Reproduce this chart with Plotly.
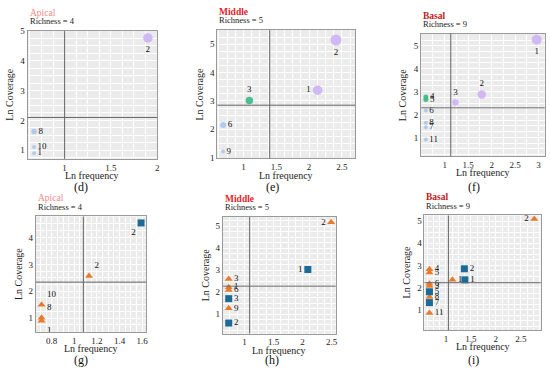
import plotly.graph_objects as go

W, H = 550, 372

# ------------------------- data -------------------------
# (d) Apical, bubble chart
d_labels = ["2", "8", "10", "1"]
d_freq = [1.90, 0.67, 0.67, 0.67]
d_cov = [4.77, 1.63, 1.11, 0.90]
d_group = ["P", "B", "B", "B"]
d_weight = [9.5, 5.5, 3.8, 3.8]
d_thresh = [1.0, 2.1]

# (e) Middle, bubble chart
e_labels = ["2", "1", "3", "6", "9"]
e_freq = [2.41, 2.13, 1.09, 0.69, 0.69]
e_cov = [5.15, 3.38, 3.02, 2.15, 1.22]
e_group = ["P", "P", "G", "B", "B"]
e_weight = [11, 9.5, 7.5, 6, 4]
e_thresh = [1.4, 2.85]

# (f) Basal, bubble chart
f_labels = ["1", "2", "3", "4", "5", "6", "8", "7", "11"]
f_freq = [2.96, 1.79, 1.23, 0.60, 0.60, 0.60, 0.60, 0.60, 0.60]
f_cov = [5.26, 2.87, 2.52, 2.76, 2.66, 2.17, 1.64, 1.45, 0.91]
f_group = ["P", "P", "P", "G", "G", "B", "B", "B", "B"]
f_weight = [10, 8.5, 6.5, 5, 5, 4, 4, 4, 4]
f_thresh = [1.13, 2.29]

# (g) Apical, triangles / squares
g_tri_labels = ["2", "10", "8", "1"]
g_tri_freq = [1.13, 0.71, 0.71, 0.71]
g_tri_cov = [2.57, 1.50, 1.02, 0.90]
g_sq_labels = ["2"]
g_sq_freq = [1.59]
g_sq_cov = [4.54]
g_thresh = [1.08, 2.34]

# (h) Middle
h_tri_labels = ["2", "3", "1", "6", "9"]
h_tri_freq = [2.49, 0.73, 0.73, 0.73, 0.73]
h_tri_cov = [5.18, 2.60, 2.22, 2.09, 1.26]
h_sq_labels = ["1", "3", "2"]
h_sq_freq = [2.09, 0.73, 0.73]
h_sq_cov = [3.03, 1.70, 0.59]
h_thresh = [1.09, 2.27]

# (i) Basal
i_tri_labels = ["2", "1", "4", "5", "6", "3", "8", "11"]
i_tri_freq = [2.77, 1.13, 0.67, 0.67, 0.67, 0.67, 0.67, 0.67]
i_tri_cov = [5.10, 2.35, 2.83, 2.68, 2.17, 2.07, 1.57, 0.85]
i_sq_labels = ["2", "1", "5", "7"]
i_sq_freq = [1.37, 1.38, 0.67, 0.67]
i_sq_cov = [2.85, 2.35, 1.81, 1.32]
i_thresh = [1.05, 2.22]

titles = ["Apical", "Middle", "Basal", "Apical", "Middle", "Basal"]
richness = ["Richness = 4", "Richness = 5", "Richness = 9",
            "Richness = 4", "Richness = 5", "Richness = 9"]
panel_tags = ["(d)", "(e)", "(f)", "(g)", "(h)", "(i)"]

# ------------------------- styles -------------------------
SERIF = "Liberation Serif, DejaVu Serif, serif"
GROUP_COLORS = {"P": "#cdb3f3", "B": "#a9c7ef", "G": "#38b983"}
TRI_COLOR = "#e87a2c"
SQ_COLOR = "#1c6a98"
TITLE_COLORS = ["#f08a8a", "#e3242b", "#c41a22", "#f08a8a", "#e3242b", "#c41a22"]

def px_x(p):
    return p / W

def px_y(p):
    return 1 - p / H

# panel pixel boxes: (left, right, top, bottom)
boxes = [
    (27.7, 157.7, 26.7, 157.7),
    (218.0, 356.3, 25.7, 157.3),
    (422.7, 546.7, 29.3, 155.0),
    (36.0, 146.7, 216.7, 335.0),
    (223.7, 337.0, 217.3, 336.7),
    (426.0, 542.7, 215.7, 333.3),
]
xranges = [[0.6, 2.0], [0.6, 2.7], [0.5, 3.13], [0.66, 1.635], [0.63, 2.57], [0.57, 2.9]]
yranges = [[0.71, 5.0], [0.97, 5.5], [0.18, 5.53], [0.49, 4.78], [0.11, 5.42], [0.07, 5.26]]
xticks = [[1, 1.5, 2], [1, 1.5, 2, 2.5], [1, 1.5, 2, 2.5, 3],
          [0.8, 1, 1.2, 1.4, 1.6], [1, 1.5, 2, 2.5], [1, 1.5, 2, 2.5]]
yticks = [[1, 2, 3, 4, 5], [1, 2, 3, 4, 5], [1, 2, 3, 4, 5],
          [1, 2, 3, 4], [1, 2, 3, 4, 5], [1, 2, 3, 4, 5]]
xminor = [0.125, 0.125, 0.25, 0.05, 0.125, 0.125]
yminor = [0.25, 0.25, 0.25, 0.25, 0.25, 0.25]
threshs = [d_thresh, e_thresh, f_thresh, g_thresh, h_thresh, i_thresh]

fig = go.Figure()

def axis_names(k):
    s = "" if k == 1 else str(k)
    return "x" + s, "y" + s

LBL_FONT = dict(family=SERIF, size=9, color="#111")

def add_bubbles(k, freq, cov, group, weight, labels, positions):
    xa, ya = axis_names(k)
    fig.add_trace(go.Scatter(
        x=freq, y=cov, xaxis=xa, yaxis=ya, mode="markers+text",
        text=labels, textposition=positions, textfont=LBL_FONT,
        marker=dict(size=weight, color=[GROUP_COLORS[g] for g in group],
                    opacity=0.9, line=dict(width=0)),
        showlegend=False, cliponaxis=False, hoverinfo="skip"))

def add_shapes_pts(k, freq, cov, labels, positions, symbol, color):
    xa, ya = axis_names(k)
    fig.add_trace(go.Scatter(
        x=freq, y=cov, xaxis=xa, yaxis=ya, mode="markers+text",
        text=labels, textposition=positions, textfont=LBL_FONT,
        marker=dict(size=7, symbol=symbol, color=color, line=dict(width=0)),
        showlegend=False, cliponaxis=False, hoverinfo="skip"))

add_bubbles(1, d_freq, d_cov, d_group, d_weight, d_labels,
            ["bottom center", "middle right", "middle right", "middle right"])
add_bubbles(2, e_freq, e_cov, e_group, e_weight, e_labels,
            ["bottom center", "middle left", "top center", "middle right", "middle right"])
add_bubbles(3, f_freq, f_cov, f_group, f_weight, f_labels,
            ["bottom center", "top center", "top center", "middle right", "middle right",
             "middle right", "middle right", "middle right", "middle right"])

add_shapes_pts(4, g_tri_freq, g_tri_cov, g_tri_labels,
               ["top right", "top right", "top right", "bottom right"], "triangle-up", TRI_COLOR)
add_shapes_pts(4, g_sq_freq, g_sq_cov, g_sq_labels, ["bottom left"], "square", SQ_COLOR)

add_shapes_pts(5, h_tri_freq, h_tri_cov, h_tri_labels,
               ["middle left", "middle right", "middle right", "middle right", "middle right"],
               "triangle-up", TRI_COLOR)
add_shapes_pts(5, h_sq_freq, h_sq_cov, h_sq_labels,
               ["middle left", "middle right", "middle right"], "square", SQ_COLOR)

add_shapes_pts(6, i_tri_freq, i_tri_cov, i_tri_labels,
               ["middle left", "middle right", "middle right", "middle right",
                "middle right", "middle right", "middle right", "middle right"],
               "triangle-up", TRI_COLOR)
add_shapes_pts(6, i_sq_freq, i_sq_cov, i_sq_labels,
               ["middle right", "middle right", "middle right", "middle right"],
               "square", SQ_COLOR)

layout = dict(width=W, height=H, margin=dict(l=0, r=0, t=0, b=0),
              paper_bgcolor="white", plot_bgcolor="#ebebeb",
              font=dict(family=SERIF, color="#111"))

shapes = []
annotations = []
for i in range(6):
    k = i + 1
    l, r, t, b = boxes[i]
    s = "" if k == 1 else str(k)
    common = dict(showline=True, mirror=True, linecolor="#9a9a9a", linewidth=1,
                  gridcolor="white", gridwidth=1, zeroline=False,
                  ticks="", ticklen=0,
                  tickfont=dict(family=SERIF, size=9, color="#222"),
                  tickmode="array", fixedrange=True)
    layout["xaxis" + s] = dict(
        domain=[px_x(l), px_x(r)], range=xranges[i], anchor="y" + s,
        tickvals=xticks[i], ticktext=[("%g" % v) for v in xticks[i]],
        minor=dict(dtick=xminor[i], tick0=0, showgrid=True, gridcolor="white",
                   gridwidth=0.5, ticklen=0), **common)
    layout["yaxis" + s] = dict(
        domain=[px_y(b), px_y(t)], range=yranges[i], anchor="x" + s,
        tickvals=yticks[i], ticktext=[str(v) for v in yticks[i]],
        minor=dict(dtick=yminor[i], tick0=0, showgrid=True, gridcolor="white",
                   gridwidth=0.5, ticklen=0), **common)
    vx, hy = threshs[i]
    shapes.append(dict(type="line", xref="x" + s, yref="y" + s + " domain",
                       x0=vx, x1=vx, y0=0, y1=1, line=dict(color="#666", width=1)))
    shapes.append(dict(type="line", xref="x" + s + " domain", yref="y" + s,
                       x0=0, x1=1, y0=hy, y1=hy, line=dict(color="#666", width=1)))
    # titles
    bold = i not in (0, 3)
    ttxt = "<b>%s</b>" % titles[i] if bold else titles[i]
    annotations.append(dict(text=ttxt, x=px_x(l), y=px_y(t - 18.5), xref="paper", yref="paper",
                            xanchor="left", yanchor="middle", showarrow=False,
                            font=dict(family=SERIF, size=9.5, color=TITLE_COLORS[i])))
    annotations.append(dict(text=richness[i], x=px_x(l), y=px_y(t - 10), xref="paper",
                            yref="paper", xanchor="left", yanchor="middle", showarrow=False,
                            font=dict(family=SERIF, size=8.5, color="#222")))
    # axis titles
    annotations.append(dict(text="Ln frequency", x=px_x((l + r) / 2), y=px_y(b + 17),
                            xref="paper", yref="paper", xanchor="center", yanchor="middle",
                            showarrow=False, font=dict(family=SERIF, size=10, color="#222")))
    annotations.append(dict(text="Ln Coverage", x=px_x(l - 18), y=px_y((t + b) / 2),
                            xref="paper", yref="paper", xanchor="center", yanchor="middle",
                            textangle=-90, showarrow=False,
                            font=dict(family=SERIF, size=10, color="#222")))
    # panel tag
    tag_y = 186 if i < 3 else 364
    tag_x = [81.7, 273, 476, 81.7, 273, 475][i]
    annotations.append(dict(text=panel_tags[i], x=px_x(tag_x), y=px_y(tag_y), xref="paper",
                            yref="paper", xanchor="center", yanchor="middle", showarrow=False,
                            font=dict(family=SERIF, size=12, color="#111")))

layout["shapes"] = shapes
layout["annotations"] = annotations
fig.update_layout(**layout)
fig.write_html("out.html", config={"displayModeBar": False},
               post_script="document.body.style.margin='0';document.body.style.overflow='hidden';")
